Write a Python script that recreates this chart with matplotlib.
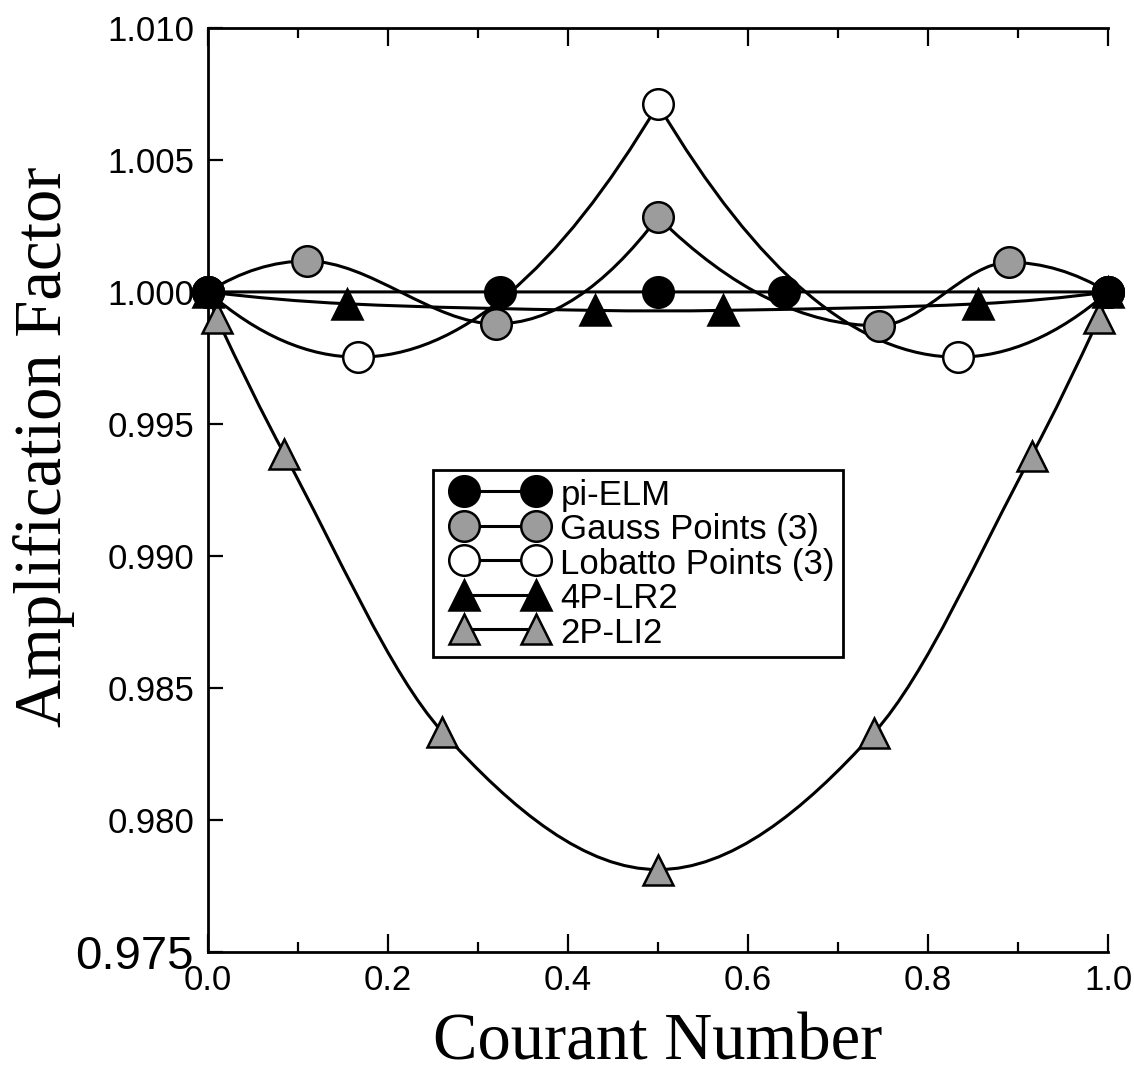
import matplotlib
matplotlib.use("Agg")
import matplotlib.pyplot as plt
from matplotlib.path import Path
from matplotlib.patches import PathPatch
from matplotlib.lines import Line2D
from matplotlib.legend_handler import HandlerLine2D
from matplotlib.ticker import MultipleLocator, FormatStrFormatter

# values
pielm_x = [0.0, 0.325, 0.5, 0.64, 1.0]
pielm_y = [1.0, 1.0, 1.0, 1.0, 1.0]

gauss_x = [0.0, 0.11, 0.32, 0.5, 0.745, 0.89, 1.0]
gauss_y = [1.0, 1.00117, 0.99879, 1.00283, 0.99872, 1.00112, 1.0]

lobatto_x = [0.0, 0.167, 0.5, 0.833, 1.0]
lobatto_y = [1.0, 0.99753, 1.0071, 0.99753, 1.0]

lr2_x = [0.0, 0.155, 0.43, 0.572, 0.856, 1.0]
lr2_y = [1.0, 0.99955, 0.9993, 0.9993, 0.99955, 1.0]

# 2P-LI2 curve runs to the corners, markers only on the inner points
li2_x = [0.0, 0.01, 0.085, 0.26, 0.5, 0.74, 0.915, 0.99, 1.0]
li2_y = [1.0, 0.9990, 0.99385, 0.98335, 0.97812, 0.98330, 0.9938, 0.9990, 1.0]

labels = ["pi-ELM", "Gauss Points (3)", "Lobatto Points (3)", "4P-LR2", "2P-LI2"]


def smooth_path(xs, ys, kinks=()):
    # piecewise cubic through the points, flat at local extrema, corners at kinks
    n = len(xs)
    slopes = [None] * n
    for i in range(1, n - 1):
        if xs[i] in kinks:
            continue
        if (ys[i] - ys[i - 1]) * (ys[i + 1] - ys[i]) < 0:
            slopes[i] = 0.0
        else:
            slopes[i] = (ys[i + 1] - ys[i - 1]) / (xs[i + 1] - xs[i - 1])
    verts = [(xs[0], ys[0])]
    codes = [Path.MOVETO]
    for i in range(n - 1):
        dx = xs[i + 1] - xs[i]
        sec = (ys[i + 1] - ys[i]) / dx
        ma, mb = slopes[i], slopes[i + 1]
        if ma is None and mb is None:
            ma = mb = sec
        elif ma is None:
            ma = 2 * sec - mb
        elif mb is None:
            mb = 2 * sec - ma
        verts += [(xs[i] + dx / 3, ys[i] + ma * dx / 3),
                  (xs[i + 1] - dx / 3, ys[i + 1] - mb * dx / 3),
                  (xs[i + 1], ys[i + 1])]
        codes += [Path.CURVE4] * 3
    return Path(verts, codes)


plt.rcParams['font.family'] = ['Liberation Sans', 'DejaVu Sans']

fig = plt.figure(figsize=(11.34, 10.77), dpi=100)
ax = fig.add_axes([0.1834, 0.1161, 0.7937, 0.858])

gray = '#9c9c9c'
lw = 2.2
ms = 22
mew = 1.8
styles = [
    dict(marker='o', mfc='black', mec='black'),
    dict(marker='o', mfc=gray, mec='black'),
    dict(marker='o', mfc='white', mec='black'),
    dict(marker='^', mfc='black', mec='black'),
    dict(marker='^', mfc=gray, mec='black'),
]

series = [
    (pielm_x, pielm_y, ()),
    (gauss_x, gauss_y, (0.5,)),
    (lobatto_x, lobatto_y, (0.5,)),
    (lr2_x, lr2_y, ()),
    (li2_x, li2_y, ()),
]

for xs, ys, kinks in series:
    ax.add_patch(PathPatch(smooth_path(xs, ys, kinks), fill=False,
                           ec='black', lw=lw, zorder=2, clip_on=False))

# markers back to front so pi-ELM sits on top at the corners
for k in [4, 3, 2, 1, 0]:
    xs, ys, _ = series[k]
    if k == 4:
        xs, ys = xs[1:-1], ys[1:-1]
    ax.plot(xs, ys, linestyle='none', ms=ms, mew=mew, zorder=3 + (4 - k),
            clip_on=False, **styles[k])

handles = [Line2D([], [], color='black', lw=lw, ms=ms, mew=mew, **s) for s in styles]
leg = ax.legend(handles, labels, loc='upper left', bbox_to_anchor=(0.25, 0.5216),
                borderaxespad=0, fontsize=25, handlelength=3.4,
                handleheight=1.0, labelspacing=0.0, handletextpad=0.05,
                borderpad=0.22, fancybox=False, framealpha=1, edgecolor='black',
                handler_map={Line2D: HandlerLine2D(numpoints=2, marker_pad=0.66)})
leg.get_frame().set_linewidth(2.0)

ax.set_xlim(0.0, 1.0)
ax.set_ylim(0.975, 1.010)
ax.xaxis.set_major_locator(MultipleLocator(0.2))
ax.xaxis.set_minor_locator(MultipleLocator(0.1))
ax.yaxis.set_major_locator(MultipleLocator(0.005))
ax.xaxis.set_major_formatter(FormatStrFormatter('%.1f'))
ax.yaxis.set_major_formatter(FormatStrFormatter('%.3f'))
ax.tick_params(axis='x', which='both', direction='in', top=True, width=1.6,
               labelsize=25, pad=9)
ax.tick_params(axis='x', which='major', length=13)
ax.tick_params(axis='x', which='minor', length=7)
ax.tick_params(axis='y', which='major', direction='in', length=11, width=1.6,
               right=False, labelsize=25, pad=10)
ax.spines['right'].set_visible(False)
for side in ['left', 'top', 'bottom']:
    ax.spines[side].set_linewidth(2.0)

# the bottom label is printed larger in the original
fig.canvas.draw()
for t in ax.get_yticklabels():
    if t.get_text() == '0.975':
        t.set_fontsize(34)

ax.set_xlabel('Courant Number', family=['Liberation Serif'], fontsize=48)
ax.set_ylabel('Amplification Factor', family=['Liberation Serif'], fontsize=48)
ax.xaxis.set_label_coords(0.5, -0.066)
ax.yaxis.set_label_coords(-0.148, 0.5465)

fig.savefig('out.png', dpi=100)
